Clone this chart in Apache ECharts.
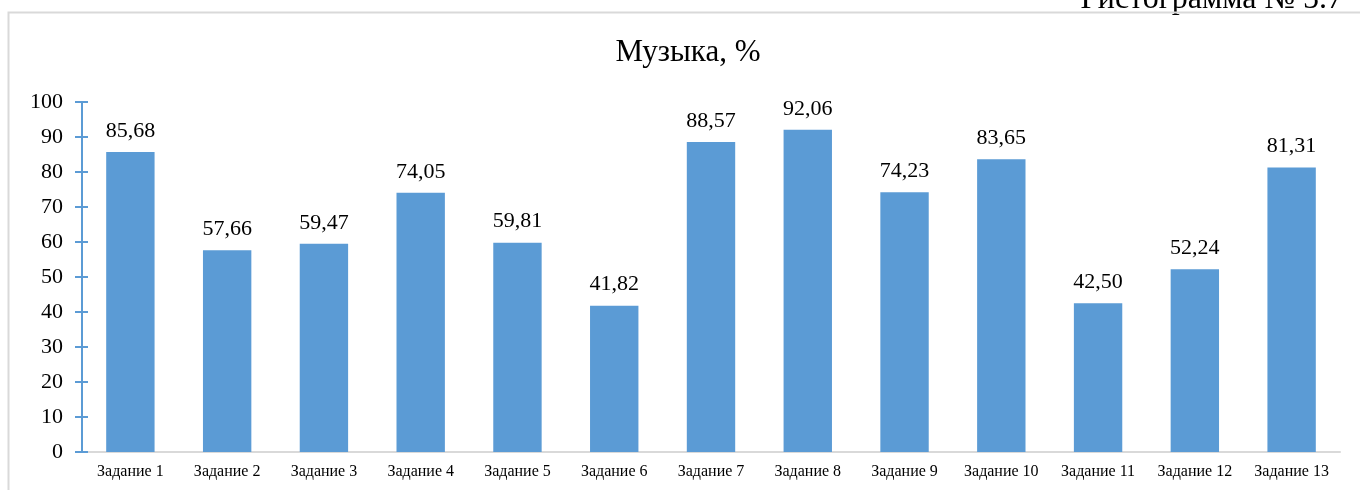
<!DOCTYPE html>
<html>
<head>
<meta charset="utf-8">
<script src="https://cdn.jsdelivr.net/npm/echarts@6/dist/echarts.min.js"></script>
<style>
html,body{margin:0;padding:0;background:#fff;}
#chart{width:1360px;height:490px;}
</style>
</head>
<body>
<div id="chart"></div>
<script>
const titleText = 'Музыка, %';
const captionText = 'Гистограмма № 5.7';
const categories = ['Задание 1','Задание 2','Задание 3','Задание 4','Задание 5','Задание 6','Задание 7','Задание 8','Задание 9','Задание 10','Задание 11','Задание 12','Задание 13'];
const values = [85.68, 57.66, 59.47, 74.05, 59.81, 41.82, 88.57, 92.06, 74.23, 83.65, 42.50, 52.24, 81.31];
const yTicks = [0, 10, 20, 30, 40, 50, 60, 70, 80, 90, 100];

const serif = '"Liberation Serif", "DejaVu Serif", serif';
const chart = echarts.init(document.getElementById('chart'), null, {renderer: 'canvas'});
const fmt = v => v.toFixed(2).replace('.', ',');

chart.setOption({
  animation: false,
  backgroundColor: '#fff',
  graphic: [
    {type: 'text', z: 99, style: {text: captionText, x: 1343, y: 16, align: 'right', verticalAlign: 'bottom', font: '32px ' + serif, fill: '#000'}},
    {type: 'rect', z: 100, shape: {x: 8.5, y: 12.5, width: 1400, height: 520}, style: {fill: 'none', stroke: '#d9d9d9', lineWidth: 2}},
    {type: 'text', z: 99, style: {text: titleText, x: 688, y: 53, align: 'center', verticalAlign: 'middle', font: '31px ' + serif, fill: '#000'}}
  ],
  grid: {left: 82, right: 20, top: 102, bottom: 38, containLabel: false},
  xAxis: {
    type: 'category',
    data: categories,
    axisLine: {show: true, lineStyle: {color: '#d9d9d9', width: 2}},
    axisTick: {show: false},
    axisLabel: {interval: 0, margin: 12, fontFamily: serif, fontSize: 16, color: '#000'}
  },
  yAxis: [
    {
      type: 'value', min: yTicks[0], max: yTicks[yTicks.length - 1], interval: 10,
      axisLine: {show: true, lineStyle: {color: '#5b9bd5', width: 2}},
      axisTick: {show: true, length: 7, lineStyle: {color: '#5b9bd5', width: 2}},
      splitLine: {show: false},
      axisLabel: {margin: 19, fontFamily: serif, fontSize: 22, color: '#000'}
    },
    {
      type: 'value', position: 'left', min: yTicks[0], max: yTicks[yTicks.length - 1], interval: 10,
      axisLine: {show: false},
      axisTick: {show: true, inside: true, length: 6, lineStyle: {color: '#5b9bd5', width: 2}},
      splitLine: {show: false},
      axisLabel: {show: false}
    }
  ],
  series: [{
    type: 'bar',
    data: values,
    barWidth: '50%',
    itemStyle: {color: '#5b9bd5'},
    label: {
      show: true, position: 'top', distance: 10,
      formatter: p => fmt(p.value),
      fontFamily: serif, fontSize: 22, color: '#000'
    }
  }]
});
</script>
</body>
</html>
